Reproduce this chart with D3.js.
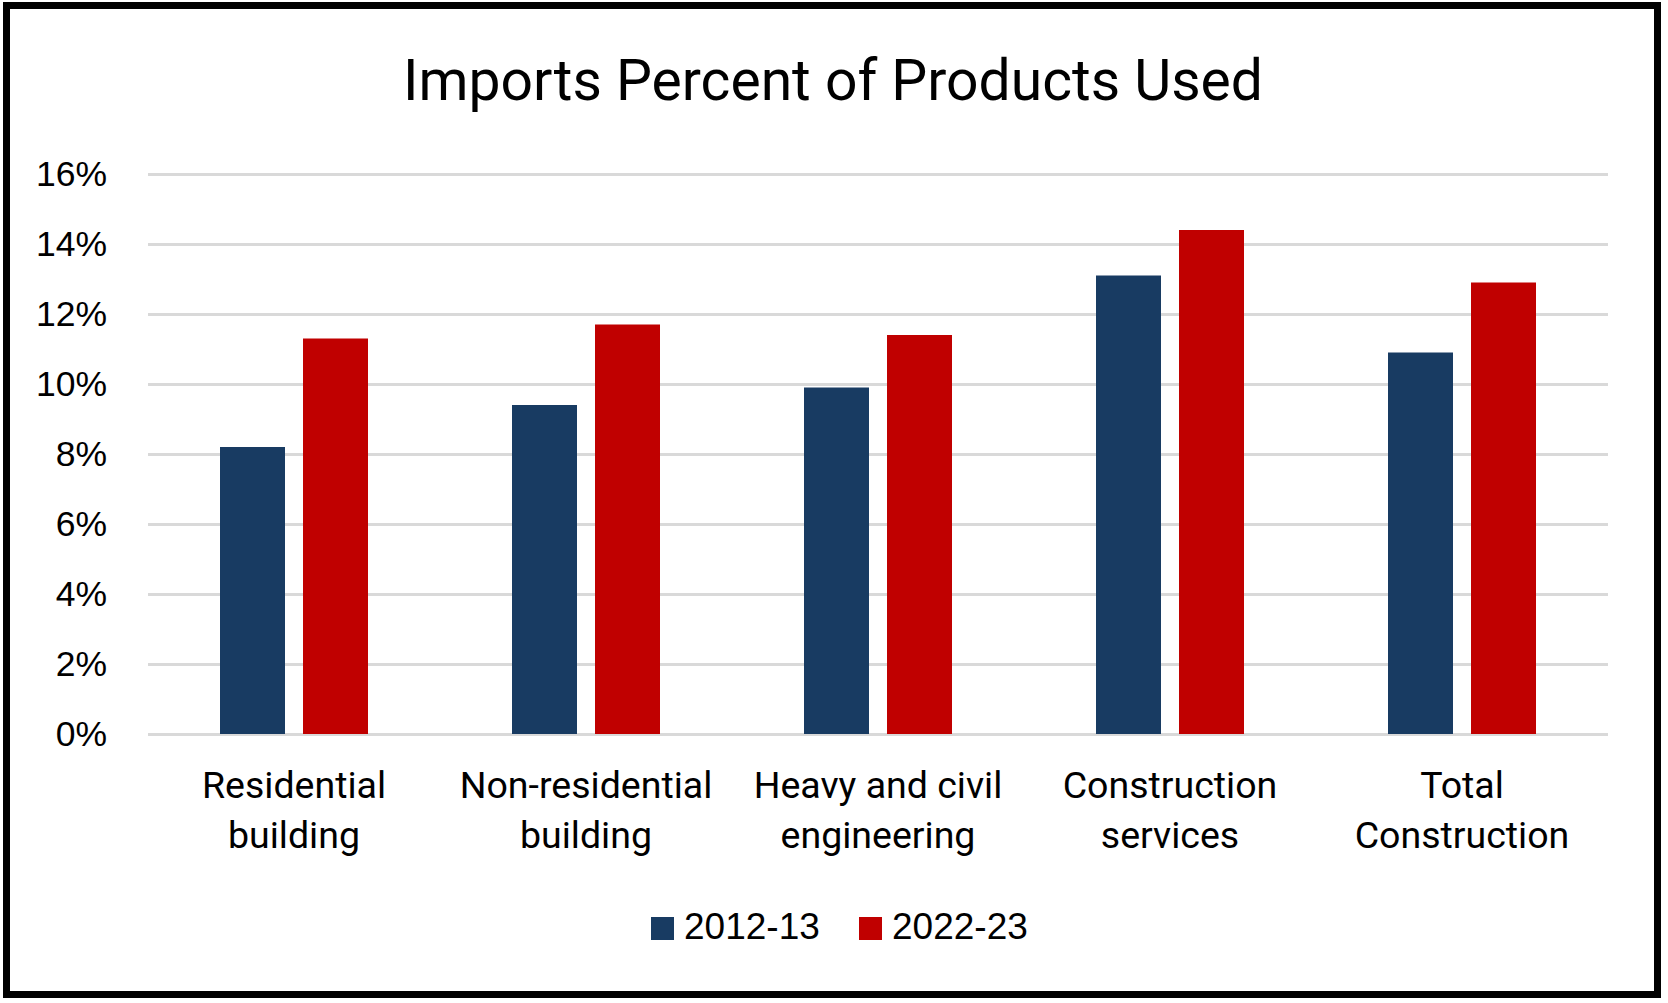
<!DOCTYPE html>
<html>
<head>
<meta charset="utf-8">
<script src="https://cdn.jsdelivr.net/npm/d3@7"></script>
<style>
    html, body { margin: 0; padding: 0; background: #fff; }
    svg { display: block; }
    .title { font-family: Roboto, "Liberation Sans", sans-serif; }
    .cat { font-family: Roboto, "Liberation Sans", sans-serif; }
    .axis text, .legend text { font-family: "Liberation Sans", Arial, sans-serif; }
</style>
</head>
<body>
<div id="chart"></div>
<script>

var categories = [
    ["Residential", "building"],
    ["Non-residential", "building"],
    ["Heavy and civil", "engineering"],
    ["Construction", "services"],
    ["Total", "Construction"]
];

var seriesNames = ["2012-13", "2022-23"];

var values2012 = [8.2, 9.4, 9.9, 13.1, 10.9];
var values2022 = [11.3, 11.7, 11.4, 14.4, 12.9];

var yTickValues = [0, 2, 4, 6, 8, 10, 12, 14, 16];

var colors = ["#183b62", "#c00000"];

var W = 1668, H = 1003;

var svg = d3.select("#chart")
    .append("svg")
    .attr("width", W)
    .attr("height", H);

// frame
svg.append("rect")
    .attr("x", 6.5)
    .attr("y", 5.5)
    .attr("width", 1651)
    .attr("height", 989)
    .attr("fill", "#fff")
    .attr("stroke", "#000")
    .attr("stroke-width", 7);

svg.append("text")
    .attr("class", "title")
    .attr("x", 833)
    .attr("y", 100)
    .attr("text-anchor", "middle")
    .attr("font-size", 57)
    .attr("fill", "#000")
    .text("Imports Percent of Products Used");

var margin = {top: 174, left: 148, right: 1608, bottom: 734};

var x0 = d3.scaleBand()
    .domain(d3.range(categories.length))
    .range([margin.left, margin.right])
    .paddingInner(0)
    .paddingOuter(0);

var x1 = d3.scaleBand()
    .domain(seriesNames)
    .range([0, 148])
    .paddingInner(0.217)
    .paddingOuter(0);

var y = d3.scaleLinear()
    .domain([0, 16])
    .range([margin.bottom, margin.top]);

var yAxis = d3.axisLeft(y)
    .tickValues(yTickValues)
    .tickSize(-(margin.right - margin.left))
    .tickPadding(41)
    .tickFormat(d => d + "%");

var gy = svg.append("g")
    .attr("class", "axis axis--y")
    .attr("transform", "translate(" + margin.left + ",0)")
    .call(yAxis);

gy.select(".domain").remove();
gy.selectAll(".tick line")
    .attr("stroke", "#d9d9d9")
    .attr("stroke-width", 3);
gy.selectAll(".tick text")
    .attr("font-size", 35.5)
    .attr("fill", "#000")
    .attr("dy", "0.33em");

var table = categories.map(function(c, i) {
    return {i: i, vals: [values2012[i], values2022[i]]};
});

var groups = svg.append("g")
    .attr("class", "bars")
    .selectAll("g")
    .data(table)
    .enter()
    .append("g")
    .attr("transform", d => "translate(" + (x0(d.i) + x0.bandwidth() / 2 - 74) + ",0)");

groups.selectAll("rect")
    .data(d => d.vals.map((v, k) => ({name: seriesNames[k], v: v, k: k})))
    .enter()
    .append("rect")
    .attr("x", d => x1(d.name))
    .attr("width", x1.bandwidth())
    .attr("y", d => y(d.v))
    .attr("height", d => y(0) - y(d.v))
    .attr("fill", d => colors[d.k]);

// category labels, two lines each
var cats = svg.append("g")
    .attr("class", "cat")
    .selectAll("text")
    .data(categories)
    .enter()
    .append("text")
    .attr("text-anchor", "middle")
    .attr("font-size", 37.5)
    .attr("fill", "#000");

cats.selectAll("tspan")
    .data((d, i) => d.map(s => ({s: s, i: i})))
    .enter()
    .append("tspan")
    .attr("x", d => x0(d.i) + x0.bandwidth() / 2)
    .attr("y", (d, j) => 798 + j * 50)
    .text(d => d.s);

// legend
var legendX = [651, 859];

var legend = svg.append("g")
    .attr("class", "legend")
    .selectAll("g")
    .data(seriesNames)
    .enter()
    .append("g")
    .attr("transform", (d, i) => "translate(" + legendX[i] + ",917)");

legend.append("rect")
    .attr("width", 23)
    .attr("height", 23)
    .attr("fill", (d, i) => colors[i]);

legend.append("text")
    .attr("x", 33)
    .attr("y", 22)
    .attr("font-size", 37)
    .attr("fill", "#000")
    .text(d => d);

</script>
</body>
</html>
